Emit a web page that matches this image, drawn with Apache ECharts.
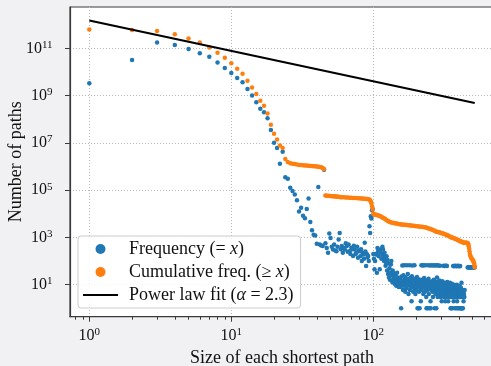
<!DOCTYPE html>
<html><head><meta charset="utf-8">
<script src="https://cdn.jsdelivr.net/npm/echarts@6/dist/echarts.min.js"></script>
<style>html,body{margin:0;padding:0;background:#f1f1f4;}#c{width:491px;height:366px;}</style>
</head><body><div id="c"></div>
<script>
// Frequency (= x): [size, number of paths]
const freqHead = [[1,3.3e9],[2,3.2e10],[3,1.74e11],[4,1.38e11],[5,9.3e10],[6,6.2e10],[7,4.4e10],[8,2.5e10],[9,1.45e10],[10,9.1e9],
[11,5.6e9],[12,3.7e9],[13,1.9e9],[14,1.0e9],[15,5.2e8],[16,2.75e8],[17,1.95e8],[18,1.1e8],[19,3.5e7],[20,1.0e7],
[21,6.0e6],[22,1.3e6],[23,4.2e6],[24,3.5e5],[25,3.0e5],[26,1.26e5],[27,9.3e4],[28,6.5e4],[29,3.7e4],[30,1.26e4],
[31,1.8e4],[32,8300],[33,6500],[34,1.6e4],[35,4.4e4],[36,4500]];
const freqMid = [[37,2000],[38,1300],[39,1200],[40,540],[41,1.35e5],[42,500],[43,460],[44,430],[45,7.2e5],[46,560],
[47,355],[48,224],[49,1450],[50,950],[51,400],[52,310],[53,500],[54,280],[55,263],[56,400],[57,810],[58,1550],
[59,316],[60,430],[61,224],[62,355],[63,310],[64,560],[65,430],[66,250],[67,500],[68,263],[69,200],[70,363],
[71,316],[72,162],[73,447],[74,310],[75,200],[76,224],[77,400],[78,138],[79,282],[80,263],[81,158],[82,316],
[83,100],[84,224],[85,190],[86,126],[87,590],[88,251],[89,62],[90,200],[91,141],[92,162],[93,100],[94,2950],
[95,1550],[96,7900],[97,6300],[98,14000],[99,16000],[100,200],
[101,126],[102,45],[103,100],[104,200],[105,190],[106,32],[107,355],[108,251],[109,158],[110,282],[111,45],
[112,224],[113,316],[114,126],[115,200],[116,398],[117,309],[118,158],[119,100],[120,224],[121,126],[122,63],
[123,85],[124,158],[125,40],[126,112],[127,28],[128,79],[129,20],[130,50],[131,16],[132,32],[133,71],[134,100],
[135,25],[136,13],[137,40],[138,32],[139,18],[140,20],[141,11],[142,25],[143,14],[144,22],[145,9],[146,16],
[147,32],[148,10],[149,20],[150,13],[151,8],[152,18],[153,11]];
const freqTail = [[154,12],[155,18],[156,8],[157,1],[158,22],[159,10],[160,65],[161,14],[162,6],[163,25],[164,9],[165,66],
[166,16],[167,11],[168,5],[169,20],[170,13],[171,7],[172,67],[173,15],[174,9],[175,28],[176,12],[177,4],[178,17],
[179,10],[180,66],[181,6],[182,19],[183,11],[184,8],[185,14],[186,2],[187,23],[188,65],[189,9],[190,13],[191,5],
[192,16],[193,10],[194,7],[195,67],[196,12],[197,18],[198,4],[199,9],[200,15],[201,11],[202,6],[203,21],[204,8],
[205,1],[206,13],[207,10],[208,1],[209,17],[210,5],[211,12],[212,1],[213,9],[214,14],[215,7],[216,2],[217,11],
[218,66],[219,6],[220,16],[222,9],[223,65],[224,12],[225,4],[226,8],[227,67],[228,19],[230,10],[231,5],[232,14],
[233,7],[234,66],[235,11],[236,3],[237,1],[238,9],[239,15],[240,6],[241,1],[242,12],[243,8],[244,66],[245,18],
[246,4],[247,10],[248,1],[249,13],[250,7],[251,65],[252,9],[253,2],[254,1],[255,11],[256,6],[258,66],[259,14],
[260,8],[261,5],[262,10],[263,3],[264,65],[265,12],[266,7],[267,16],[268,9],[270,67],[271,1],[272,6],[273,11],
[274,4],[275,8],[276,65],[277,13],[278,1],[279,5],[280,9],[281,20],[282,66],[283,7],[284,3],[285,10],[286,6],
[287,12],[288,65],[289,8],[290,4],[291,15],[292,5],[293,9],[295,64],[296,7],[297,11],[298,3],[299,6],[300,13],
[302,8],[303,2],[304,10],[305,5],[306,14],[308,7],[309,4],[310,9],[312,63],[313,6],[314,11],[315,3],[316,8],
[317,62],[318,5],[319,12],[320,7],[321,2],[322,64],[323,9],[324,4],[325,6],[326,10],[327,63],[328,3],[329,8],
[330,62],[331,5],[332,13],[334,7],[335,4],[336,9],[337,2],[338,6],[339,11],[340,5],[342,8],[343,3],[344,10],
[345,6],[346,4],[347,12],[348,7],[350,1],[351,5],[352,9],[353,3],[354,6],[355,1],[356,8],[357,4],[358,11],
[359,5],[360,1],[361,7],[362,3],[363,9],[364,6],[365,62],[366,4],[367,8],[368,2],[369,5],[370,61],[371,10],
[372,6],[373,3],[374,63],[375,7],[376,1],[377,4],[378,9],[379,62],[380,5],[381,3],[382,8],[383,1],[384,62],
[385,6],[386,4],[387,10],[388,61],[389,2],[390,7],[391,5],[392,1],[393,63],[394,8],[395,3],[396,6],[397,62],
[398,4],[399,9],[400,1],[401,62],[402,5],[403,7],[404,3],[405,61],[406,6],[407,1],[408,4],[409,62],[410,8],
[412,5],[413,1],[414,3],[415,7],[416,1],[418,12],[420,4],[421,1],[422,6],[424,1],[426,3],[427,1],[430,5],
[432,2],[435,4],[438,3],[440,6],
[462,54],[466,55],[470,54],[474,55],[478,54],[482,55],[486,54],[490,55],[495,54],[500,55],[505,54],[510,55],[514,54],[518,55]];

// Cumulative freq. (>= x)
const cumHead = [[1,6.3e11],[2,5.9e11],[3,5.4e11],[4,3.9e11],[5,2.6e11],[6,1.74e11],[7,1.07e11],[8,6.5e10],[9,4.0e10],
[10,2.35e10],[11,1.35e10],[12,8.3e9],[13,4.2e9],[14,2.2e9],[15,1.17e9],[16,6.0e8],[17,3.7e8],[18,1.74e8],[19,5.9e7],
[20,2.45e7],[21,1.38e7],[22,7.8e6],[23,6.0e6],[24,2.1e6],[25,1.55e6],[26,1.38e6],[27,1.32e6],[28,1.26e6],[29,1.2e6],
[30,1.17e6],[31,1.15e6],[32,1.12e6],[33,1.1e6],[34,1.09e6],[35,1.07e6],[36,1.05e6],[37,1.04e6],[38,1.03e6],
[39,1.02e6],[40,1.0e6],[41,9.8e5],[42,9.6e5],[43,9.3e5],[44,8.7e5],[45,7.8e5]];
const cumTail = [[46,59000],[47,58500],[48,58000],[49,57000],[50,56000],[51,55500],[52,55000],[53,54500],[54,54000],
[55,53500],[56,53000],[57,52000],[58,51000],[59,50500],[60,50000],[62,49500],[64,49000],[66,48500],[68,48000],
[70,47500],[72,47000],[74,46500],[76,46000],[78,45500],[80,45000],[82,44500],[84,44000],[86,43500],[88,43000],
[90,42000],[92,41000],[94,40000],[95,37000],[96,33000],[97,27000],[98,21000],[99,15000],[100,10000],[101,9500],
[102,9300],[103,9200],[105,9000],[107,8700],[109,8400],[111,8000],[113,7600],[115,7200],[117,6800],[119,6400],
[121,6000],[123,5600],[125,5200],[127,4900],[129,4700],[131,4500],[133,4400],[136,4200],[139,4100],[142,4000],
[145,3900],[148,3800],[151,3700],[154,3600],[157,3550],[160,3500],[164,3450],[168,3400],[172,3350],[176,3300],
[180,3250],[184,3200],[188,3150],[192,3100],[196,3050],[200,3000],[205,2950],[210,2900],[215,2850],[220,2800],
[225,2750],[230,2700],[235,2600],[240,2500],[245,2400],[250,2300],[255,2200],[260,2100],[265,2000],[270,1900],
[275,1800],[280,1750],[285,1700],[290,1650],[295,1600],[300,1550],[305,1500],[310,1450],[315,1400],[320,1350],
[325,1300],[330,1250],[335,1200],[340,1150],[345,1100],[350,1050],[355,1000],[360,980],[365,950],[370,920],
[375,890],[380,860],[385,830],[390,800],[395,770],[400,740],[405,710],[410,690],[415,670],[420,650],[425,630],
[430,610],[435,600],[440,595],[445,592],[450,590],[455,588],[460,580],[464,570],[467,500],[470,420],[473,340],
[476,260],[479,200],[482,170],[486,150],[490,135],[494,125],[498,115],[502,110],[506,100],[510,90],[513,78],
[516,65],[518,55]];

// Power law fit
const fitLine = [[1,1.5e12],[518,4.85e8]];

// Axis ticks
const xMajorTicks = [1,10,100];
const xMinorTicks = [0.8,0.9,2,3,4,5,6,7,8,9,20,30,40,50,60,70,80,90,200,300,400,500,600,700];
const yMajorTicks = [10,1e3,1e5,1e7,1e9,1e11];

const FONT = 'Liberation Serif';
const X_MIN = 0.7312, X_MAX = 708, Y_MIN = Math.pow(10,-0.354), Y_MAX = Math.pow(10,12.747);

function powLabel(v){
  const e = Math.round(Math.log10(v));
  return '{b|10}{s|' + e + '}';
}
const labelRich = {
  b: {fontFamily: FONT, fontSize: 16, color: '#111', lineHeight: 18},
  s: {fontFamily: FONT, fontSize: 11, color: '#111', verticalAlign: 'top', lineHeight: 11}
};
const legendText = {
  'Frequency (= x)': 'Frequency (= {i|x})',
  'Cumulative freq. (≥ x)': 'Cumulative freq. (≥ {i|x})',
  'Power law fit (α = 2.3)': 'Power law fit ({i|α} = 2.3)'
};

const chart = echarts.init(document.getElementById('c'), null, {renderer: 'canvas'});
chart.setOption({
  animation: false,
  backgroundColor: '#f1f1f4',
  grid: {left: 70, top: 7, width: 424, height: 309.7, show: true, backgroundColor: '#ffffff',
         borderColor: '#3a3a3a', borderWidth: 1.2, containLabel: false, outerBoundsMode: 'none'},
  legend: {
    orient: 'vertical', left: 78, top: 236, padding: [4, 7, 4, 5],
    itemWidth: 35, itemHeight: 10, itemGap: 5, symbolKeepAspect: true,
    backgroundColor: 'rgba(255,255,255,0.85)', borderColor: '#cccccc', borderWidth: 1, borderRadius: 3,
    data: [{name: 'Frequency (= x)'}, {name: 'Cumulative freq. (≥ x)'},
           {name: 'Power law fit (α = 2.3)', icon: 'path://M0,0H35V2.2H0Z'}],
    formatter: function(name){ return '{p| }' + legendText[name]; },
    textStyle: {fontFamily: FONT, fontSize: 18, color: '#111', lineHeight: 18,
      rich: {p: {width: 6, fontFamily: FONT, fontSize: 18}, i: {fontFamily: FONT, fontSize: 18, fontStyle: 'italic', color: '#111'}}}
  },
  xAxis: [{
    type: 'log', min: X_MIN, max: X_MAX, position: 'bottom',
    name: 'Size of each shortest path', nameLocation: 'middle', nameGap: 33, nameMoveOverlap: false,
    nameTextStyle: {fontFamily: FONT, fontSize: 18, color: '#111'},
    axisLine: {show: true, lineStyle: {color: '#3a3a3a', width: 1.2}},
    axisTick: {show: true, customValues: xMajorTicks, length: 5, lineStyle: {color: '#3a3a3a', width: 1}},
    axisLabel: {customValues: xMajorTicks, formatter: powLabel, margin: 10, align: 'center', rich: labelRich},
    splitLine: {show: true, lineStyle: {color: '#b8b8b8', width: 1, type: [1, 2]}},
    minorTick: {show: false}
  }, {
    type: 'log', min: X_MIN, max: X_MAX, position: 'bottom', gridIndex: 0,
    axisLine: {show: false},
    axisTick: {show: true, customValues: xMinorTicks, length: 3, lineStyle: {color: '#3a3a3a', width: 1}},
    axisLabel: {show: false},
    splitLine: {show: false}
  }],
  yAxis: {
    type: 'log', min: Y_MIN, max: Y_MAX,
    name: 'Number of paths', nameLocation: 'middle', nameGap: 45, nameMoveOverlap: false,
    nameTextStyle: {fontFamily: FONT, fontSize: 18, color: '#111'},
    axisLine: {show: true, lineStyle: {color: '#3a3a3a', width: 1.2}},
    axisTick: {show: true, customValues: yMajorTicks, length: 5, lineStyle: {color: '#3a3a3a', width: 1}},
    axisLabel: {customValues: yMajorTicks, formatter: powLabel, margin: 17.5, align: 'right', rich: labelRich},
    splitLine: {show: true, lineStyle: {color: '#b8b8b8', width: 1, type: [1, 2]}}
  },
  series: [{
    name: 'Frequency (= x)', type: 'scatter', symbol: 'circle', symbolSize: 4.5,
    itemStyle: {color: '#1f77b4', opacity: 1}, data: freqHead.concat(freqMid, freqTail), z: 2
  }, {
    name: 'Cumulative freq. (≥ x)', type: 'scatter', symbol: 'circle', symbolSize: 4.5,
    itemStyle: {color: '#ff7f0e', opacity: 1}, data: cumHead.concat(cumTail), z: 3
  }, {
    name: 'Power law fit (α = 2.3)', type: 'line', symbol: 'none', showSymbol: false,
    lineStyle: {color: '#000000', width: 2.2}, itemStyle: {color: '#000000'}, data: fitLine, z: 4
  }]
});
</script></body></html>
